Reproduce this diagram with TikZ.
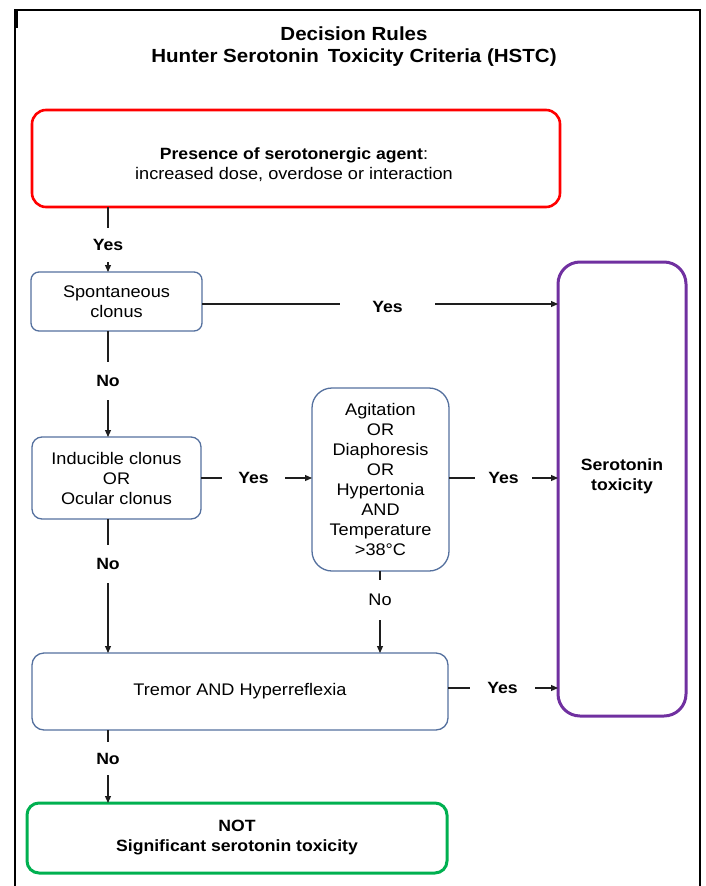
\documentclass[tikz,border=0pt]{standalone}
\usepackage{fontspec}
\setmainfont{Liberation Sans}[FakeStretch=1.08]
\usetikzlibrary{arrows.meta}
\definecolor{boxblue}{RGB}{84,112,158}
\definecolor{boxred}{RGB}{255,0,0}
\definecolor{boxpurple}{RGB}{112,48,160}
\definecolor{boxgreen}{RGB}{0,176,80}
\definecolor{linegray}{RGB}{30,30,30}
\begin{document}
\begin{tikzpicture}[x=1pt,y=-1pt,
  every node/.style={font=\fontsize{16.8}{20}\selectfont, align=center, inner sep=0pt, outer sep=0pt},
  bluebox/.style={draw=boxblue, line width=1.3pt, rounded corners=#1, rectangle},
  bluebox/.default=8pt,
  boldtext/.style={font=\fontsize{16.3}{20}\selectfont\bfseries},
  lbl/.style={boldtext},
  lblr/.style={font=\fontsize{16.8}{20}\selectfont},
  conn/.style={draw=linegray, line width=1.1pt},
  arr/.style={conn, -{Triangle[length=7pt,width=6pt]}}]
\useasboundingbox (0,0) rectangle (706,886);
% outer frame
\draw[line width=1.6pt, black] (15,886) -- (15,10) -- (700,10) -- (700,886);
\fill[black] (13.5,10) rectangle (18,28);
% title
\node[font=\fontsize{19}{22}\selectfont\bfseries] (title) at (354,47) {Decision Rules\\Hunter Serotonin\, Toxicity Criteria (HSTC)};
% boxes
\node[draw=boxred, line width=2.6pt, rounded corners=14pt, minimum width=528pt, minimum height=97pt] (red) at (296,158.5) {};
\node (redtext) at (294,165) {{\fontsize{16.3}{20}\selectfont\bfseries Presence of serotonergic agent}:\\increased dose, overdose or interaction};
\node[bluebox, minimum width=171pt, minimum height=59pt] (spont) at (116.5,301.5) {Spontaneous\\clonus};
\node[bluebox=10pt, minimum width=169pt, minimum height=82pt] (induc) at (116.5,478) {Inducible clonus\\OR\\Ocular clonus};
\node[bluebox=20pt, minimum width=137pt, minimum height=183pt] (agit) at (380.5,479.5) {Agitation\\OR\\Diaphoresis\\OR\\Hypertonia\\AND\\Temperature\\>38°C};
\node[bluebox=12pt, minimum width=416pt, minimum height=77pt] (tremor) at (240,691.5) {Tremor AND Hyperreflexia};
\node[draw=boxgreen, line width=3pt, rounded corners=12pt, minimum width=420pt, minimum height=70pt, boldtext] (green) at (237,838) {NOT\\Significant serotonin toxicity};
\node[draw=boxpurple, line width=3pt, rounded corners=22pt, minimum width=128pt, minimum height=454pt] (purple) at (622,489) {};
\node[boldtext] (purpletext) at (622,476) {Serotonin\\toxicity};
% connectors
\node[lbl, minimum height=34pt] (y1) at (108,245) {Yes};
\draw[conn] (y1 |- red.south) -- (y1.north);
\draw[arr] (y1.south) -- (y1 |- spont.north);

\node[lbl, minimum width=95pt] (y2) at (387.5,307) {Yes};
\coordinate (y2line) at (387.5,304);
\draw[conn] (spont.east |- y2line) -- (y2.west |- y2line);
\draw[arr] (y2.east |- y2line) -- (purple.west |- y2line);

\node[lbl, minimum height=38pt] (n1) at (108,381) {No};
\draw[conn] (n1 |- spont.south) -- (n1.north);
\draw[arr] (n1.south) -- (n1 |- induc.north);

\node[lbl, minimum width=63pt] (y3) at (253.5,478) {Yes};
\draw[conn] (induc.east |- y3) -- (y3.west);
\draw[arr] (y3.east) -- (agit.west |- y3);

\node[lbl, minimum width=57pt] (y4) at (503.5,478) {Yes};
\draw[conn] (agit.east |- y4) -- (y4.west);
\draw[arr] (y4.east) -- (purple.west |- y4);

\node[lblr, minimum height=40pt] (n2) at (380,600) {No};
\draw[conn] (n2 |- agit.south) -- (n2.north);
\draw[arr] (n2.south) -- (n2 |- tremor.north);

\node[lbl, minimum height=38pt] (n3) at (108,564) {No};
\draw[conn] (n3 |- induc.south) -- (n3.north);
\draw[arr] (n3.south) -- (n3 |- tremor.north);

\node[lbl, minimum width=65pt] (y5) at (502.5,688) {Yes};
\draw[conn] (tremor.east |- y5) -- (y5.west);
\draw[arr] (y5.east) -- (purple.west |- y5);

\node[lbl, minimum height=33pt] (n4) at (108,758.5) {No};
\draw[conn] (n4 |- tremor.south) -- (n4.north);
\draw[arr] (n4.south) -- (n4 |- green.north);
\end{tikzpicture}
\end{document}
